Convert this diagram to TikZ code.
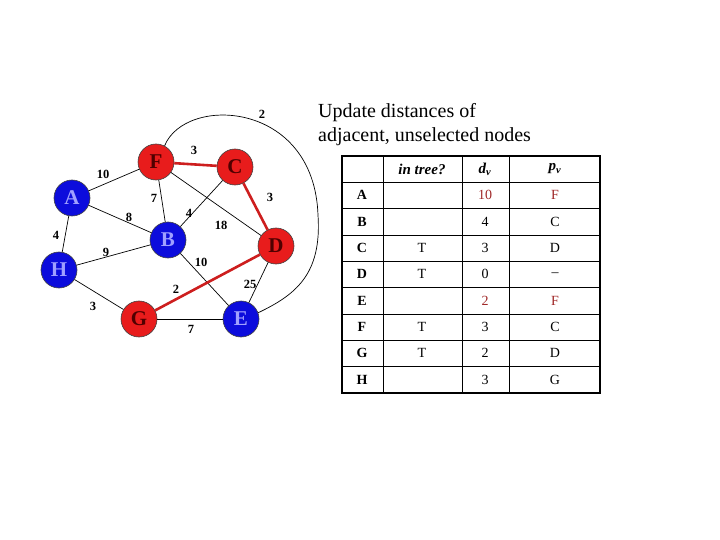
\documentclass[tikz,border=0pt]{standalone}
\usepackage{fontspec}
\setmainfont{Liberation Serif}
\definecolor{nred}{RGB}{232,28,28}
\definecolor{lred}{RGB}{80,0,0}
\definecolor{nblue}{RGB}{12,12,220}
\definecolor{lblue}{RGB}{160,160,255}
\definecolor{tred}{RGB}{205,30,30}
\definecolor{cred}{RGB}{160,40,40}
\begin{document}
\begin{tikzpicture}[x=1pt,y=-1pt,
  vert/.style={circle,draw=black!75,line width=0.6pt,minimum size=36pt,inner sep=0pt,font=\fontsize{21}{21}\selectfont\bfseries},
  vred/.style={vert,fill=nred,text=lred},
  vblue/.style={vert,fill=nblue,text=lblue},
  edge/.style={black,line width=0.7pt},
  tedge/.style={tred,line width=2.6pt},
  wt/.style={font=\fontsize{12.5}{12.5}\selectfont\bfseries,inner sep=0pt},
  cell/.style={font=\fontsize{14}{14}\selectfont,inner sep=0pt},
  hcell/.style={font=\fontsize{15}{15}\selectfont\bfseries\itshape,inner sep=0pt},
]
\useasboundingbox (0,0) rectangle (720,540);

% vertices
\node[vblue] (A) at (72,198) {A};
\node[vred]  (F) at (156,162) {F};
\node[vred]  (C) at (235,167) {C};
\node[vblue] (B) at (168,240) {B};
\node[vred]  (D) at (276,246) {D};
\node[vblue] (H) at (59,270) {H};
\node[vred]  (G) at (139,319) {G};
\node[vblue] (E) at (241,319) {E};

% edges
\draw[edge] (A) -- (F);
\draw[edge] (A) -- (B);
\draw[edge] (A) -- (H);
\draw[edge] (F) -- (B);
\draw[edge] (F) -- (D);
\draw[edge] (C) -- (B);
\draw[edge] (H) -- (B);
\draw[edge] (B) -- (E);
\draw[edge] (H) -- (G);
\draw[edge] (G) -- (E);
\draw[edge] (D) -- (E);
\draw[tedge] (F) -- (C);
\draw[tedge] (C) -- (D);
\draw[tedge] (G) -- (D);
\draw[edge] (F.62) .. controls (185,95) and (314,100) .. (318,215)
            .. controls (322,275) and (295,295) .. (E.20);

% weights
\node[wt] (w1) at (103,174) {10};
\node[wt] (w2) at (154,198) {7};
\node[wt] (w3) at (129,217) {8};
\node[wt] (w4) at (56,235) {4};
\node[wt] (w5) at (189,213) {4};
\node[wt] (w6) at (221,225) {18};
\node[wt] (w7) at (106,252) {9};
\node[wt] (w8) at (201,262) {10};
\node[wt] (w9) at (93,306) {3};
\node[wt] (w10) at (176,289) {2};
\node[wt] (w11) at (250,284) {25};
\node[wt] (w12) at (191,329) {7};
\node[wt] (w13) at (194,150) {3};
\node[wt] (w14) at (270,197) {3};
\node[wt] (w15) at (262,114) {2};

% title
\node[anchor=north west,align=left,inner sep=0pt,font=\fontsize{20}{24}\selectfont] (title) at (318,103)
  {Update distances of\\adjacent, unselected nodes};

% table grid
\foreach \i in {1,...,8} {
  \draw[line width=0.8pt] (342,{156+26.33*\i}) -- (600,{156+26.33*\i});
}
\foreach \x in {383,462,509} {
  \draw[line width=0.8pt] (\x,156) -- (\x,393);
}
\draw[line width=2pt] (342,156) rectangle (600,393);

% header
\node[hcell] (h1) at (422,169) {in tree?};
\node[hcell] (h2) at (485,169) {d\textsubscript{v}};
\node[hcell] (h3) at (555,169) {p\textsubscript{v}};

% rows
\foreach \n/\t/\d/\p/\c [count=\i] in {A//10/F/cred, B//4/C/black, C/T/3/D/black, D/T/0/--/black, E//2/F/cred, F/T/3/C/black, G/T/2/D/black, H//3/G/black} {
  \node[cell,font=\fontsize{14}{14}\selectfont\bfseries] (r\i a) at (362,{169+26.33*\i}) {\n};
  \node[cell] (r\i b) at (422,{169+26.33*\i}) {\t};
  \node[cell,text=\c] (r\i c) at (485,{169+26.33*\i}) {\d};
  \node[cell,text=\c] (r\i d) at (555,{169+26.33*\i}) {\p};
}
\end{tikzpicture}
\end{document}
